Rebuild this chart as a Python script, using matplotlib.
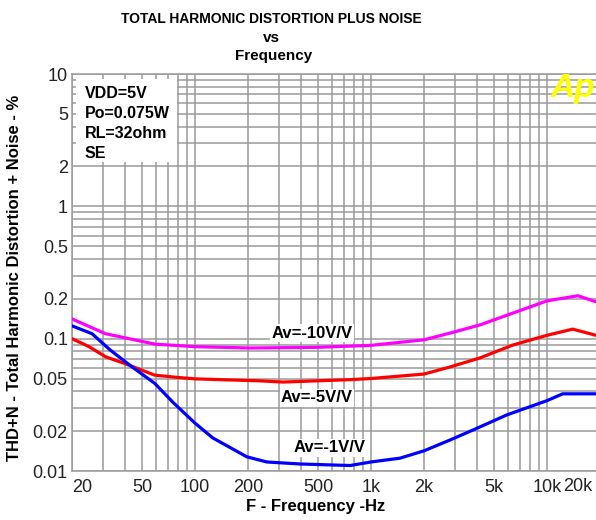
import matplotlib
matplotlib.use("Agg")
import matplotlib.pyplot as plt
from matplotlib.ticker import LogLocator, NullFormatter, FixedLocator, FixedFormatter
from matplotlib.patches import Rectangle

plt.rcParams['font.family'] = ['Liberation Sans', 'DejaVu Sans']

# Data
freq_m = [20, 31, 59, 100, 205, 500, 1000, 2000, 2800, 4160, 6400, 10000, 15000, 19000]
thd_m = [0.141, 0.109, 0.091, 0.087, 0.085, 0.086, 0.089, 0.098, 0.110, 0.127, 0.156, 0.193, 0.211, 0.190]

freq_r = [20, 25, 31, 41, 59, 79, 100, 234, 316, 760, 1000, 2000, 2800, 4160, 6400, 10000, 14000, 19000]
thd_r = [0.100, 0.087, 0.073, 0.064, 0.053, 0.051, 0.0497, 0.048, 0.047, 0.049, 0.050, 0.054, 0.061, 0.0715, 0.0895, 0.106, 0.118, 0.106]

freq_b = [20, 26, 33, 44, 59, 75, 100, 126, 197, 256, 394, 760, 1000, 1460, 2000, 2800, 3800, 5900, 10000, 12300, 19000]
thd_b = [0.125, 0.109, 0.082, 0.061, 0.046, 0.033, 0.023, 0.0178, 0.0128, 0.0117, 0.0113, 0.0110, 0.0117, 0.0125, 0.0142, 0.0171, 0.0204, 0.0265, 0.0340, 0.0383, 0.0383]

x_ticks = [20, 50, 100, 200, 500, 1000, 2000, 5000, 10000]
x_labels = ['20', '50', '100', '200', '500', '1k', '2k', '5k', '10k']
y_ticks = [0.01, 0.02, 0.05, 0.1, 0.2, 0.5, 1, 2, 5, 10]
y_labels = ['0.01', '0.02', '0.05', '0.1', '0.2', '0.5', '1', '2', '5', '10']

W, H = 596, 520
fig = plt.figure(figsize=(W / 100, H / 100), dpi=100)
fig.patch.set_facecolor('white')

left_px, right_px, top_px, bot_px = 72, 596, 74, 471
ax = fig.add_axes([left_px / W, 1 - bot_px / H, (right_px - left_px) / W, (bot_px - top_px) / H])
ax.set_xscale('log')
ax.set_yscale('log')
ax.set_xlim(20, 19000)
ax.set_ylim(0.01, 10)

grid_col = '#9a9a9a'
ax.xaxis.set_major_locator(FixedLocator(x_ticks))
ax.xaxis.set_major_formatter(FixedFormatter(x_labels))
ax.xaxis.set_minor_locator(LogLocator(base=10, subs=range(2, 10), numticks=20))
ax.xaxis.set_minor_formatter(NullFormatter())
ax.yaxis.set_major_locator(FixedLocator(y_ticks))
ax.yaxis.set_major_formatter(FixedFormatter(y_labels))
ax.yaxis.set_minor_locator(LogLocator(base=10, subs=range(2, 10), numticks=20))
ax.yaxis.set_minor_formatter(NullFormatter())
ax.grid(True, which='both', color=grid_col, linewidth=1.1)
ax.set_axisbelow(True)
ax.tick_params(which='both', length=0)
ax.tick_params(axis='x', pad=6, labelsize=13, labelcolor='#222222')
ax.tick_params(axis='y', pad=3, labelsize=13, labelcolor='#222222')
for s in ['left', 'top', 'bottom']:
    ax.spines[s].set_color(grid_col)
    ax.spines[s].set_linewidth(1.1)
ax.spines['right'].set_visible(False)
fig.canvas.draw()
ax.get_xticklabels()[0].set_horizontalalignment('left')

# extra 20k label (axis edge lies just outside picture)
ax.text(15000, -0.018, '20k', transform=ax.get_xaxis_transform(), ha='center', va='top',
        fontsize=13, color='#222222')

# Curves
ax.plot(freq_m, thd_m, color='#ff00ff', linewidth=2.3, zorder=3)
ax.plot(freq_r, thd_r, color='#ff0000', linewidth=2.3, zorder=3)
ax.plot(freq_b, thd_b, color='#0000ff', linewidth=2.3, zorder=3)

# Info box
def px2ax(x, y):
    return ((x - left_px) / (right_px - left_px), (bot_px - y) / (bot_px - top_px))

bx0, by0 = px2ax(76, 162)
bx1, by1 = px2ax(177, 79)
ax.add_patch(Rectangle((bx0, by0), bx1 - bx0, by1 - by0, transform=ax.transAxes,
                       facecolor='white', edgecolor='none', zorder=2))
for txt, ypx in [('VDD=5V', 94), ('Po=0.075W', 114), ('RL=32ohm', 134), ('SE', 154)]:
    xa, ya = px2ax(85, ypx)
    ax.text(xa, ya, txt, transform=ax.transAxes, ha='left', va='center',
            fontsize=11.5, fontweight='bold', zorder=4)

# Curve labels
for txt, xp, yp in [('Av=-10V/V', 312, 333), ('Av=-5V/V', 317, 398), ('Av=-1V/V', 330, 448)]:
    xa, ya = px2ax(xp, yp)
    ax.text(xa, ya, txt, transform=ax.transAxes, ha='center', va='center',
            fontsize=12, fontweight='bold', zorder=4,
            bbox=dict(facecolor='white', edgecolor='none', pad=1))

# Ap logo
xa, ya = px2ax(573, 88)
ax.text(xa, ya, 'Ap', transform=ax.transAxes, ha='center', va='center', fontsize=24,
        fontweight='bold', fontstyle='italic', color='#ffff00', zorder=4)

# Titles
fig.text(271 / W, 1 - 19 / H, 'TOTAL HARMONIC DISTORTION PLUS NOISE', ha='center', va='center',
         fontsize=10, fontweight='bold')
fig.text(271 / W, 1 - 38 / H, 'vs', ha='center', va='center', fontsize=11, fontweight='bold')
fig.text(274 / W, 1 - 56 / H, 'Frequency', ha='center', va='center', fontsize=11, fontweight='bold')

fig.text(316 / W, 1 - 506 / H, 'F - Frequency -Hz', ha='center', va='center',
         fontsize=12, fontweight='bold')
fig.text(15 / W, 1 - 278 / H, 'THD+N - Total Harmonic Distortion + Noise - %', ha='center',
         va='center', rotation=90, fontsize=12, fontweight='bold')

fig.savefig('out.png', dpi=100)
